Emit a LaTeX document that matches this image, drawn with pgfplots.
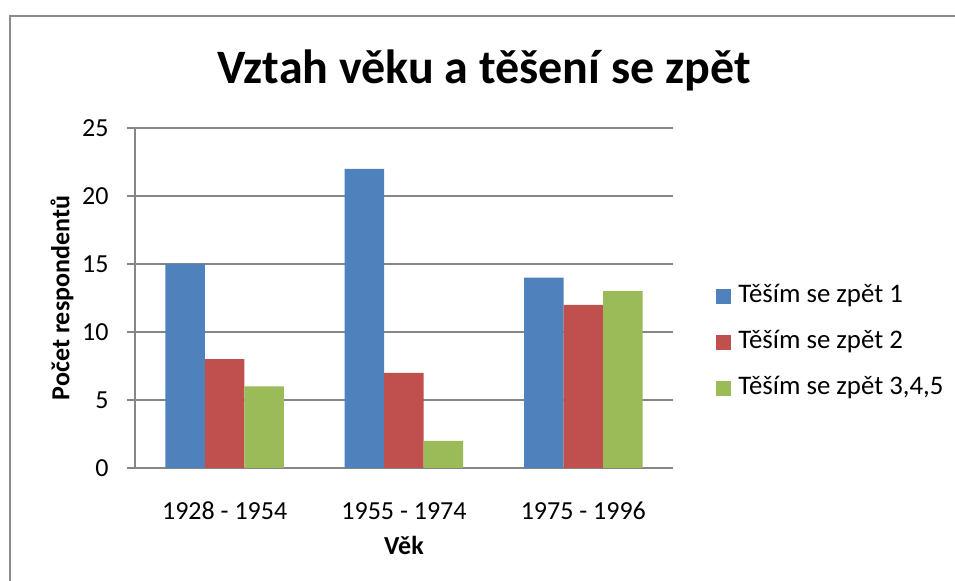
\documentclass[border=0pt]{standalone}
\usepackage{fontspec}
\setmainfont{Carlito}
\usepackage{pgfplots}
\pgfplotsset{compat=1.18}
\definecolor{sblue}{HTML}{4F81BD}
\definecolor{sred}{HTML}{C0504D}
\definecolor{sgreen}{HTML}{9BBB59}
\definecolor{gridc}{HTML}{868686}
\definecolor{borderc}{HTML}{8C8C8C}
\begin{document}
\begin{tikzpicture}
\path[use as bounding box] (0pt,0pt) rectangle (477.5pt,290.5pt);
\fill[white] (0pt,0pt) rectangle (477.5pt,290.5pt);
\draw[borderc, line width=1pt] (5pt,-5pt) -- (5pt,282.5pt) -- (485pt,282.5pt);
\begin{axis}[
  at={(67.5pt,56.5pt)}, anchor=south west,
  scale only axis, width=269pt, height=170pt,
  ybar=0pt, bar width=19.75pt,
  xmin=-0.5, xmax=2.5, ymin=0, ymax=25,
  xtick={0,1,2}, xticklabels={1928 - 1954,1955 - 1974,1975 - 1996},
  ytick={0,5,...,25},
  axis x line*=bottom, axis y line*=left,
  axis line style={gridc, line width=0.75pt, -},
  xtick style={draw=none},
  ytick style={gridc, line width=0.75pt},
  tick align=outside, major tick length=4pt,
  ymajorgrids, grid style={gridc, line width=0.75pt},
  tick label style={font=\fontsize{13pt}{15pt}\selectfont, inner sep=0pt},
  /pgf/number format/assume math mode=true,
  yticklabel style={anchor=east, xshift=-9pt},
  xticklabel style={anchor=base, yshift=-22pt},
  every axis x label/.style={at={(axis description cs:0.5,-0.2265)}, anchor=center},
  every axis y label/.style={at={(axis description cs:-0.1357,0.5)}, rotate=90, anchor=center},
  label style={font=\bfseries\fontsize{13pt}{15pt}\selectfont},
  xlabel={Věk}, ylabel={Počet respondentů},
  every axis title shift=0pt,
  title={Vztah věku a těšení se zpět},
  title style={at={(axis description cs:0.6487,1.1294)}, anchor=base, font=\bfseries\fontsize{24pt}{28pt}\selectfont},
  legend style={draw=none, fill=none, at={(axis description cs:1.08,0.368)}, anchor=west,
    inner sep=0pt, font=\fontsize{13.4pt}{15pt}\selectfont, row sep=11pt,
    nodes={inner sep=0pt, text height=9pt, text depth=3pt},
    /tikz/every odd column/.append style={column sep=3.5pt}},
  legend cell align=left,
  legend image code/.code={\fill[#1] (0pt,-3.75pt) rectangle (7.5pt,3.75pt);},
]
\addplot[fill=sblue, draw=none] coordinates {(0,15) (1,22) (2,14)};
\addplot[fill=sred, draw=none] coordinates {(0,8) (1,7) (2,12)};
\addplot[fill=sgreen, draw=none] coordinates {(0,6) (1,2) (2,13)};
\legend{Těším se zpět 1,Těším se zpět 2,{Těším se zpět 3,4,5}}
\end{axis}
\end{tikzpicture}
\end{document}
